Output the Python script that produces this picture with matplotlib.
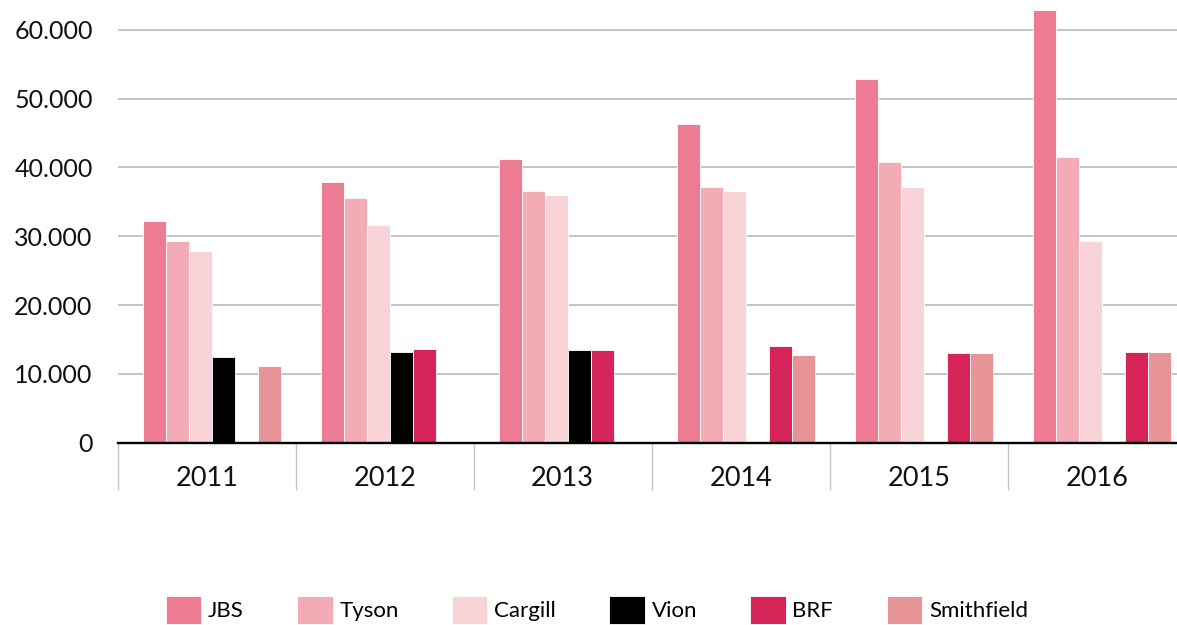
import numpy as np
import matplotlib.pyplot as plt
from matplotlib.ticker import FuncFormatter, FixedLocator

plt.rcParams['font.family'] = ['Lato', 'DejaVu Sans']

years = ['2011', '2012', '2013', '2014', '2015', '2016']
companies = ['JBS', 'Tyson', 'Cargill', 'Vion', 'BRF', 'Smithfield']
colors = ['#EC7B93', '#F3ABB6', '#F8D3D7', '#000000', '#D62459', '#E69497']

nan = np.nan
jbs = [32200, 37900, 41300, 46300, 52800, 62900]
tyson = [29300, 35500, 36600, 37200, 40800, 41500]
cargill = [27800, 31600, 36000, 36600, 37200, 29300]
vion = [12400, 13200, 13500, nan, nan, nan]
brf = [nan, 13600, 13500, 14100, 13000, 13200]
smithfield = [11100, nan, nan, 12700, 13000, 13200]
series = [jbs, tyson, cargill, vion, brf, smithfield]

fig = plt.figure(figsize=(11.77, 6.25), dpi=100)
ax = fig.add_axes([0.1, 0.2917, 0.9, 0.6935])

x = np.arange(len(years))
w = 0.129
for k, (name, vals, c) in enumerate(zip(companies, series, colors)):
    ax.bar(x + 0.03 + (k - 2.5) * w, vals, width=w, color=c,
           edgecolor='white', linewidth=0.6, label=name, zorder=2)

ax.set_xlim(-0.5, 5.451)
ax.set_ylim(0, 63000)
ax.set_yticks(np.arange(0, 60001, 10000))
ax.yaxis.set_major_formatter(FuncFormatter(lambda v, p: f"{int(v):,}".replace(',', '.')))
ax.yaxis.grid(True, color='#b4b4b4', linewidth=1.1, zorder=0)
ax.set_axisbelow(True)

for s in ['left', 'top', 'right']:
    ax.spines[s].set_visible(False)
ax.spines['bottom'].set_color('black')
ax.spines['bottom'].set_linewidth(1.7)
ax.spines['bottom'].set_zorder(4)

ax.set_xticks(x)
ax.set_xticklabels(years)
ax.xaxis.set_minor_locator(FixedLocator(np.arange(-0.5, 6, 1)))
ax.tick_params(axis='x', which='major', length=0, pad=17, labelsize=19.5, labelcolor='#111111')
ax.tick_params(axis='x', which='minor', length=34, width=1, color='#c4c4c4')
ax.tick_params(axis='y', length=0, pad=18, labelsize=18, labelcolor='#111111')

fig.legend(loc='center', bbox_to_anchor=(0.507, 0.024), ncol=6, frameon=False,
           fontsize=16, handlelength=1.6, handleheight=1.6, handletextpad=0.3,
           columnspacing=2.4, borderpad=0)

fig.savefig('out.png', dpi=100)
